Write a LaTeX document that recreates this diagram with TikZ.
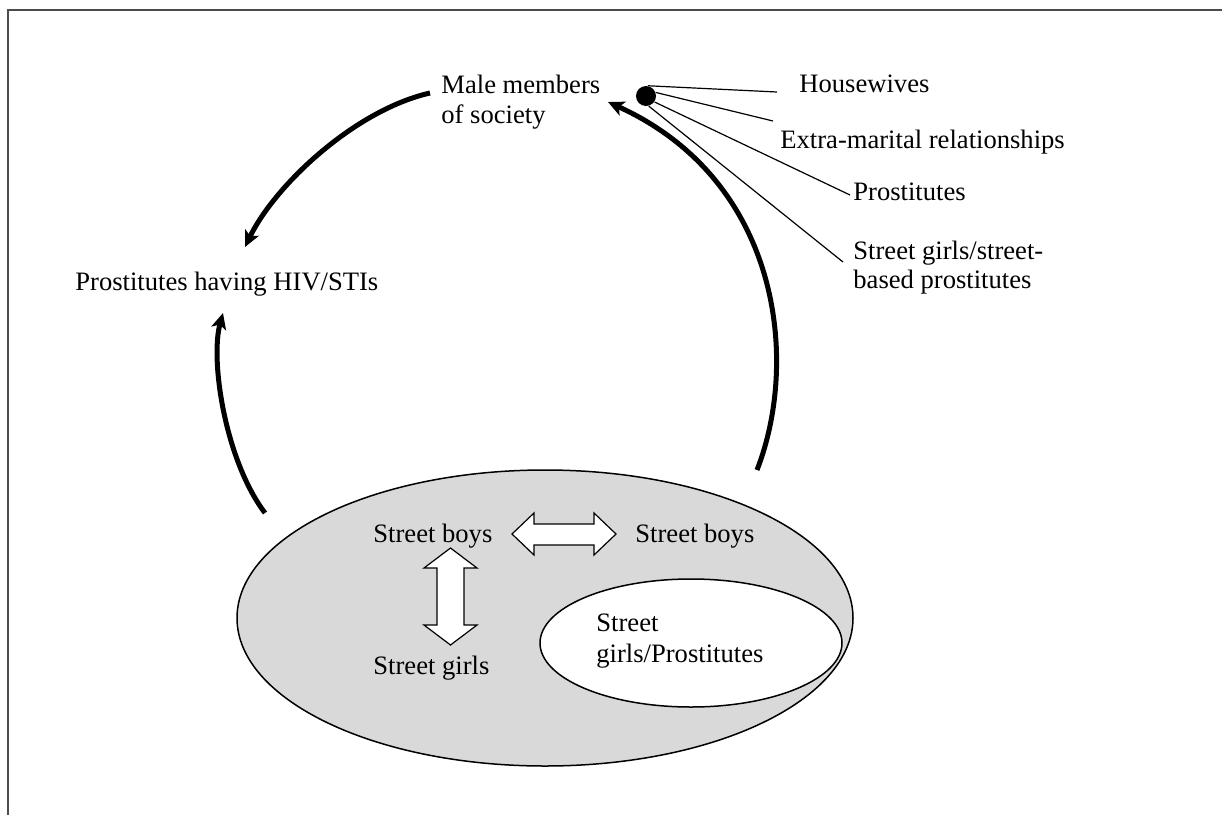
\documentclass[tikz,border=0pt]{standalone}
\usepackage{fontspec}
\setmainfont{Liberation Serif}
\usetikzlibrary{arrows.meta,shapes.geometric}
\definecolor{ellgray}{HTML}{D9D9D9}
\begin{document}
\begin{tikzpicture}[x=0.5pt,y=-0.5pt,
  lbl/.style={anchor=base west,inner sep=0pt,font=\fontsize{13.3}{15}\selectfont},
  flow/.style={line width=2.5pt,-{Stealth[length=8pt,width=7.5pt,inset=2pt]}},
  spoke/.style={line width=0.6pt},
  blockarrow/.style={draw,fill=white,line width=0.6pt,line join=miter},
  frame/.style={line width=0.7pt,draw=black!70}]
\useasboundingbox (0,0) rectangle (1222,815);
% frame (top and left edges)
\draw[frame] (1222,10) -- (8,10) -- (8,815);

% ellipses
\node[draw,ellipse,fill=ellgray,line width=0.75pt,inner sep=0pt,
      minimum width=308pt,minimum height=148pt] (big) at (545,618) {};
\node[draw,ellipse,fill=white,line width=0.75pt,inner sep=0pt,
      minimum width=151pt,minimum height=64pt] (inner) at (691,643) {};

% texts
\node[lbl] (male1) at (441,93) {Male members};
\node[lbl] (male2) at (441,123) {of society};
\node[lbl] (hw) at (799,92) {Housewives};
\node[lbl] (em) at (780,148) {Extra-marital relationships};
\node[lbl] (pr) at (853,200) {Prostitutes};
\node[lbl] (sg1) at (853,259) {Street girls/street-};
\node[lbl] (sg2) at (853,288) {based prostitutes};
\node[lbl] (hiv) at (75,290) {Prostitutes having HIV/STIs};
\node[lbl] (sbl) at (373,542) {Street boys};
\node[lbl] (sbr) at (635,542) {Street boys};
\node[lbl] (sgl) at (373,674) {Street girls};
\node[lbl] (sp1) at (596,631) {Street};
\node[lbl] (sp2) at (596,662) {girls/Prostitutes};

% dot and spokes
\node[circle,fill=black,inner sep=0pt,minimum size=10pt] (dot) at (646,96) {};
\coordinate (hwEnd) at (777,92);
\coordinate (emEnd) at (773,121);
\coordinate (prEnd) at (850,195);
\coordinate (sgEnd) at (843,262);
\draw[spoke] (dot.80) -- (hwEnd);
\draw[spoke] (dot.20) -- (emEnd);
\draw[spoke] (dot.-35) -- (prEnd);
\draw[spoke] (dot.-75) -- (sgEnd);

% flow arrows
\coordinate (tA) at (430,93);
\coordinate (tB) at (245,247);
\draw[flow] (tA) .. controls (355,110) and (275,185) .. (tB);
\coordinate (lA) at (265,513);
\coordinate (lB) at (223,313);
\draw[flow] (lA) .. controls (225,460) and (210,360) .. (lB);
\coordinate (rA) at (757,470);
\coordinate (rB) at (608,102);
\draw[flow] (rA) .. controls (800,360) and (780,180) .. (rB);

% block double arrows
\draw[blockarrow] (512,534) -- (534,513) -- (534,524) -- (594,524) -- (594,513)
  -- (616,534) -- (594,555) -- (594,545) -- (534,545) -- (534,555) -- cycle;
\draw[blockarrow] (450.5,548) -- (477,568) -- (464,568) -- (464,625) -- (477,625)
  -- (450.5,645) -- (424,625) -- (437,625) -- (437,568) -- (424,568) -- cycle;
\end{tikzpicture}
\end{document}
